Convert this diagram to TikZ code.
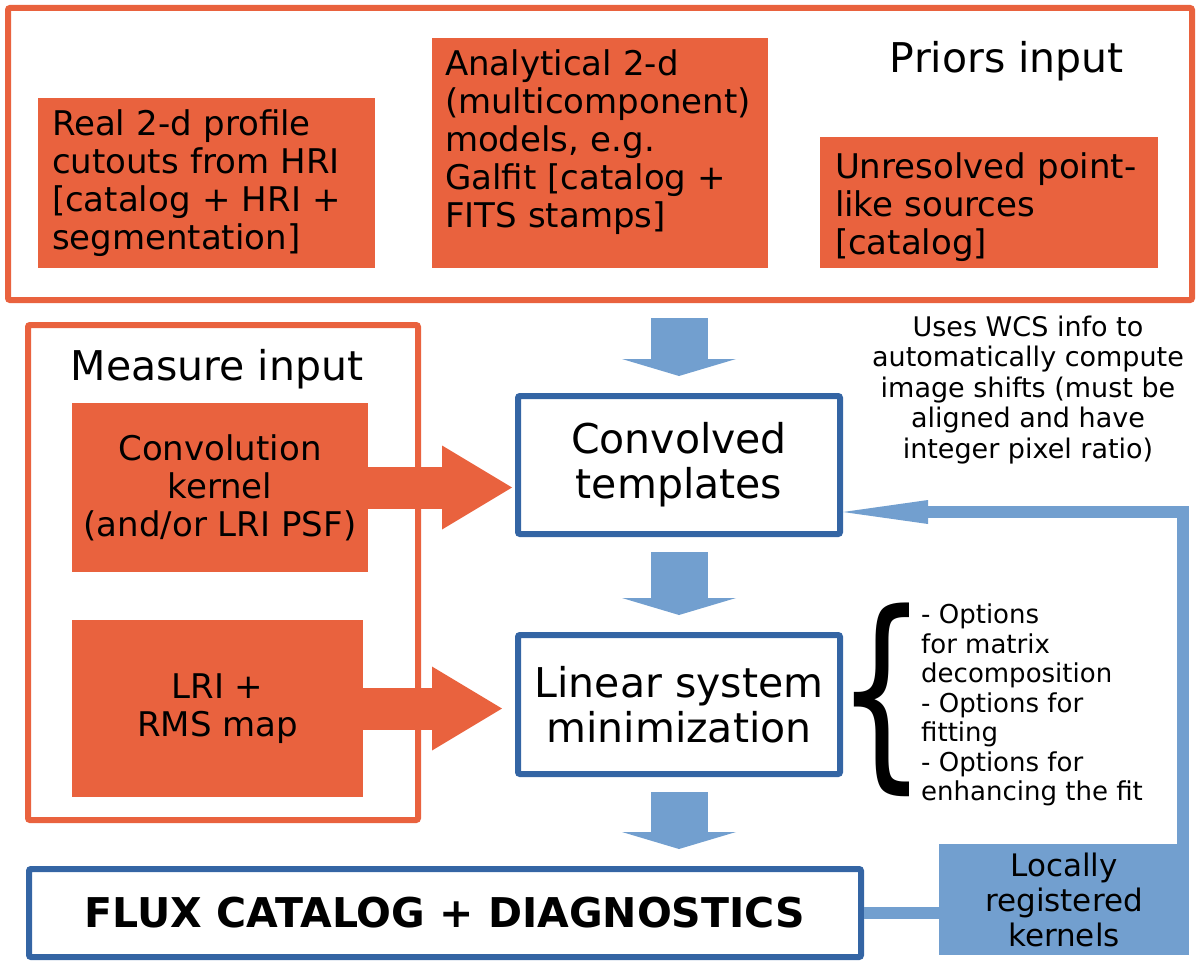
\documentclass[tikz,border=0pt]{standalone}
\usepackage{fontspec}
\setmainfont{DejaVu Sans}
\usetikzlibrary{arrows.meta}
\definecolor{inorange}{RGB}{233,98,62}
\definecolor{outblue}{RGB}{52,101,164}
\definecolor{linkblue}{RGB}{114,159,207}

\begin{document}
\begin{tikzpicture}[x=1pt,y=-1pt]
	\tikzset{FrameStyle/.style =
		{draw = inorange,
			line width = 6pt,
			rounded corners = 2pt,
			inner sep = 0pt},
		InputStyle/.style =
		{fill = inorange,
			inner sep = 0pt,
			align = left,
			font = \fontsize{34}{38}\selectfont},
		ResultStyle/.style =
		{draw = outblue,
			line width = 6pt,
			rounded corners = 2pt,
			inner sep = 0pt,
			align = center,
			font = \fontsize{41}{45}\selectfont},
		TitleStyle/.style =
		{font = \fontsize{41}{47}\selectfont},
		BigArrowStyle/.style =
		{draw = inorange,
			line width = 42pt,
			-{Triangle[length=70pt,width=84pt,line width=0pt]}},
		DownArrowStyle/.style =
		{draw = linkblue,
			line width = 57pt,
			shorten <= 15pt,
			shorten >= 17pt,
			-{Triangle[length=17pt,width=114pt,line width=0pt]}},
		LinkStyle/.style =
		{draw = linkblue,
			line width = 12pt}}
	\useasboundingbox (0,0) rectangle (1200,963);
	% priors
	\node[FrameStyle, minimum width=1184pt, minimum height=292pt] (Priors) at (600,154) {};
	\node[InputStyle, minimum width=337pt, minimum height=170pt, text width=309pt] (Real) at (206.5,183)
		{Real 2-d profile\\ cutouts from HRI\\ {[}catalog + HRI +\\ segmentation]};
	\node[InputStyle, minimum width=336pt, minimum height=230pt, text width=310pt] (Analytic) at (600,153)
		{Analytical 2-d\\ (multicomponent)\\ models, e.g.\\ Galfit [catalog +\\ FITS stamps]\\[-10pt]\mbox{}};
	\node[InputStyle, minimum width=338pt, minimum height=131pt, text width=308pt] (Unres) at (989,202.5)
		{\mbox{}\\[-2pt]Unresolved point-\\ like sources\\ {[}catalog]};
	\node[TitleStyle] (PriorsLbl) at (1007,61) {Priors input};
	% measure
	\node[FrameStyle, minimum width=390pt, minimum height=495pt] (Measure) at (223,572.5) {};
	\node[TitleStyle] (MeasureLbl) at (217,369) {Measure input};
	\node[InputStyle, align=center, minimum width=296pt, minimum height=169pt] (Kernel) at (220,487.5)
		{Convolution\\ kernel\\ (and/or LRI PSF)};
	\node[InputStyle, align=center, minimum width=291pt, minimum height=177pt] (Lri) at (217.5,708.5)
		{LRI +\\ RMS map};
	% pipeline
	\node[ResultStyle, minimum width=322pt, minimum height=138pt] (Conv) at (679,465) {Convolved\\ templates};
	\node[ResultStyle, minimum width=322pt, minimum height=139pt] (Lin) at (679,704.5) {Linear system\\ minimization};
	\node[ResultStyle, minimum width=832pt, minimum height=88pt, font=\bfseries\fontsize{41}{47}\selectfont] (Flux) at (445,913)
		{FLUX CATALOG + DIAGNOSTICS};
	\node[fill=linkblue, inner sep=0pt, minimum width=250pt, minimum height=111pt, align=center,
		font=\fontsize{31}{35}\selectfont] (Local) at (1064,899.5) {Locally\\ registered\\ kernels};
	\node[align=center, font=\fontsize{27}{30.5}\selectfont] (Wcs) at (1028,390)
		{Uses WCS info to\\ automatically compute\\ image shifts (must be\\ aligned and have\\ integer pixel ratio)};
	\node[anchor=west, align=left, inner sep=0pt, font=\fontsize{26}{29.5}\selectfont] (Opts) at (921,705)
		{- Options\\ for matrix\\ decomposition\\ - Options for\\ fitting\\ - Options for\\ enhancing the fit};
	\node[inner sep=0pt, font=\fontsize{210}{210}\selectfont] (Brace) at (882,700) {\scalebox{0.68}[1]{\{}};
	% arrows
	\draw[DownArrowStyle] (Priors.south -| Conv.north) -- (Conv.north);
	\draw[DownArrowStyle] (Conv.south) -- (Lin.north);
	\draw[DownArrowStyle] (Lin.south) -- (Lin.south |- Flux.north);
	\draw[BigArrowStyle, shorten >=3pt] (Kernel.east) -- (Kernel.east -| Conv.west);
	\draw[BigArrowStyle, shorten >=13pt] (Lri.east) -- (Lri.east -| Lin.west);
	\draw[LinkStyle] (Flux.east) -- (Flux.east -| Local.west);
	\draw[LinkStyle, -{Triangle[length=85pt,width=24pt,line width=0pt]}]
		([xshift=-6pt]Local.north east) |- ([yshift=-47pt]Conv.east);
\end{tikzpicture}
\end{document}
